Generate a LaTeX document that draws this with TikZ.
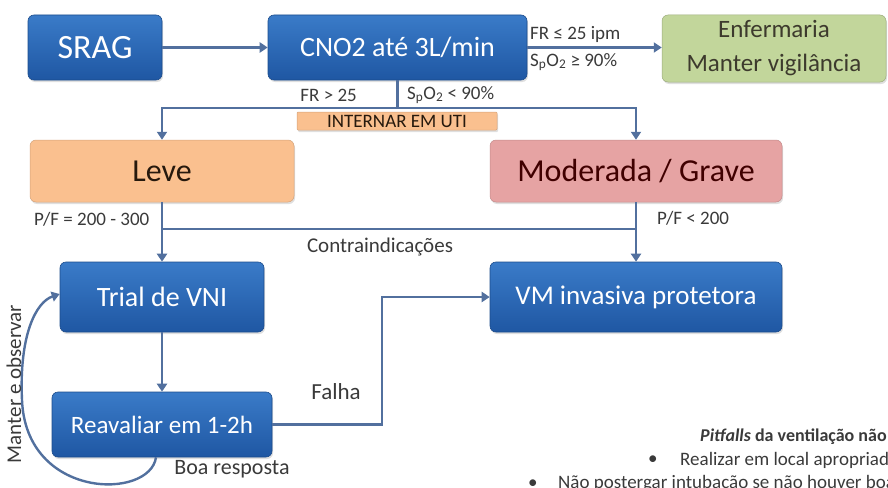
\documentclass[tikz,border=0pt]{standalone}
\usepackage{fontspec}
\setmainfont{Carlito}
\usetikzlibrary{arrows.meta,shadows}
\definecolor{lineC}{HTML}{52709E}
\definecolor{blueTop}{HTML}{3A7BC8}
\definecolor{blueBot}{HTML}{1F57A3}
\definecolor{blueEdge}{HTML}{1C4C8C}
\definecolor{greenF}{HTML}{C2D69B}
\definecolor{orangeF}{HTML}{FAC08F}
\definecolor{pinkF}{HTML}{E6A3A3}
\definecolor{txtC}{HTML}{3A3A3A}
\newcommand{\fsz}[1]{\fontsize{#1}{#1}\selectfont}
\begin{document}
\begin{tikzpicture}[x=1pt,y=-1pt,
  boxbase/.style={rounded corners=6pt, inner sep=0pt, align=center,
    drop shadow={shadow xshift=1pt, shadow yshift=-2pt, opacity=0.25}},
  bluebox/.style={boxbase, draw=blueEdge, line width=0.6pt, top color=blueTop, bottom color=blueBot, text=white},
  greenbox/.style={boxbase, draw=greenF!80!black, line width=0.5pt, fill=greenF, text=black!75!olive},
  orangebox/.style={boxbase, draw=orangeF!85!black, line width=0.5pt, fill=orangeF, text=black!80!brown},
  pinkbox/.style={boxbase, draw=pinkF!85!black, line width=0.5pt, fill=pinkF, text=black!75!red},
  ln/.style={draw=lineC, line width=2.4pt},
  arr/.style={ln, -{Triangle[length=8pt,width=10pt]}},
  lbl/.style={text=txtC, font=\fsz{19}, inner sep=0pt}
]
\useasboundingbox (0,0) rectangle (888,487);
\clip (0,0) rectangle (888,487);

% boxes
\node[bluebox, minimum width=134pt, minimum height=65pt, font=\fsz{34}] (srag) at (95,47.5) {SRAG};
\node[bluebox, minimum width=259pt, minimum height=65pt, font=\fsz{28}] (cno) at (397.5,47.5) {CNO2 até 3L/min};
\node[greenbox, minimum width=224pt, minimum height=67pt, font=\fontsize{25}{34}\selectfont] (enf) at (774,48.5) {Enfermaria\\Manter vigilância};
\node[orangebox, minimum width=264pt, minimum height=62pt, font=\fsz{32}] (leve) at (162,171) {Leve};
\node[pinkbox, minimum width=292pt, minimum height=62pt, font=\fsz{32}] (mod) at (636,171) {Moderada / Grave};
\node[orangebox, rounded corners=1pt, minimum width=200pt, minimum height=18pt, font=\fsz{19}] (uti) at (397,121) {INTERNAR EM UTI};
\node[bluebox, minimum width=204pt, minimum height=70pt, font=\fsz{28}] (trial) at (162,297) {Trial de VNI};
\node[bluebox, minimum width=292pt, minimum height=70pt, font=\fsz{27}] (vm) at (636,297) {VM invasiva protetora};
\node[bluebox, minimum width=220pt, minimum height=65pt, font=\fsz{25}] (reav) at (162,424.5) {Reavaliar em 1-2h};

% coordinates
\coordinate (split) at (397.5,108);
\coordinate (contra) at (400,229);
\coordinate (fk) at (382,425);

% connectors
\draw[arr] (srag) -- (cno);
\draw[arr] (cno.east) -- (cno.east -| enf.west);
\draw[ln] (cno.south) -- (split);
\draw[arr] (split) -| (leve.north);
\draw[arr] (split) -| (mod.north);
\draw[arr] (leve.south) -- (trial.north);
\draw[arr] (mod.south) -- (vm.north);
\draw[ln] (leve.south |- contra) -- (mod.south |- contra);
\draw[arr] (trial.south) -- (reav.north);
\draw[arr] (reav.east) -- (reav.east -| fk) |- (vm.west);
\draw[arr] ([xshift=-6pt]reav.south) .. controls (150,500) and (26,500) .. (22,400)
   .. controls (19,335) and (36,302) .. ([yshift=3pt]trial.west);

% labels
\node[lbl, anchor=west] (l1) at (530,34) {FR ≤ 25 ipm};
\node[lbl, anchor=west] (l2) at (530,62) {S\textsubscript{p}O\textsubscript{2} ≥ 90\%};
\node[lbl, anchor=east] (l3) at (357,95) {FR > 25};
\node[lbl, anchor=west] (l4) at (407,95) {S\textsubscript{p}O\textsubscript{2} < 90\%};
\node[lbl, anchor=west] (l5) at (34,219) {P/F = 200 - 300};
\node[lbl, anchor=west] (l6) at (657,218) {P/F < 200};
\node[lbl, font=\fsz{21}] (l7) at (380,247) {Contraindicações};
\node[lbl, font=\fsz{23}] (l8) at (336,392) {Falha};
\node[lbl, font=\fsz{22}] (l9) at (232,469) {Boa resposta};
\node[lbl, font=\fsz{21}, rotate=90] (l10) at (14,384) {Manter e observar};

% pitfalls (cut off at the picture's edges, as in the reference)
\node[lbl, anchor=west, font=\bfseries\fsz{18}] (p1) at (700,437) {\textit{Pitfalls} da ventilação não invasiva};
\node[lbl, anchor=west] (p2b) at (648,460) {•};
\node[lbl, anchor=west] (p2) at (680,460) {Realizar em local apropriado};
\node[lbl, anchor=west] (p3b) at (528,484) {•};
\node[lbl, anchor=west] (p3) at (558,484) {Não postergar intubação se não houver boa resposta};
\end{tikzpicture}
\end{document}
